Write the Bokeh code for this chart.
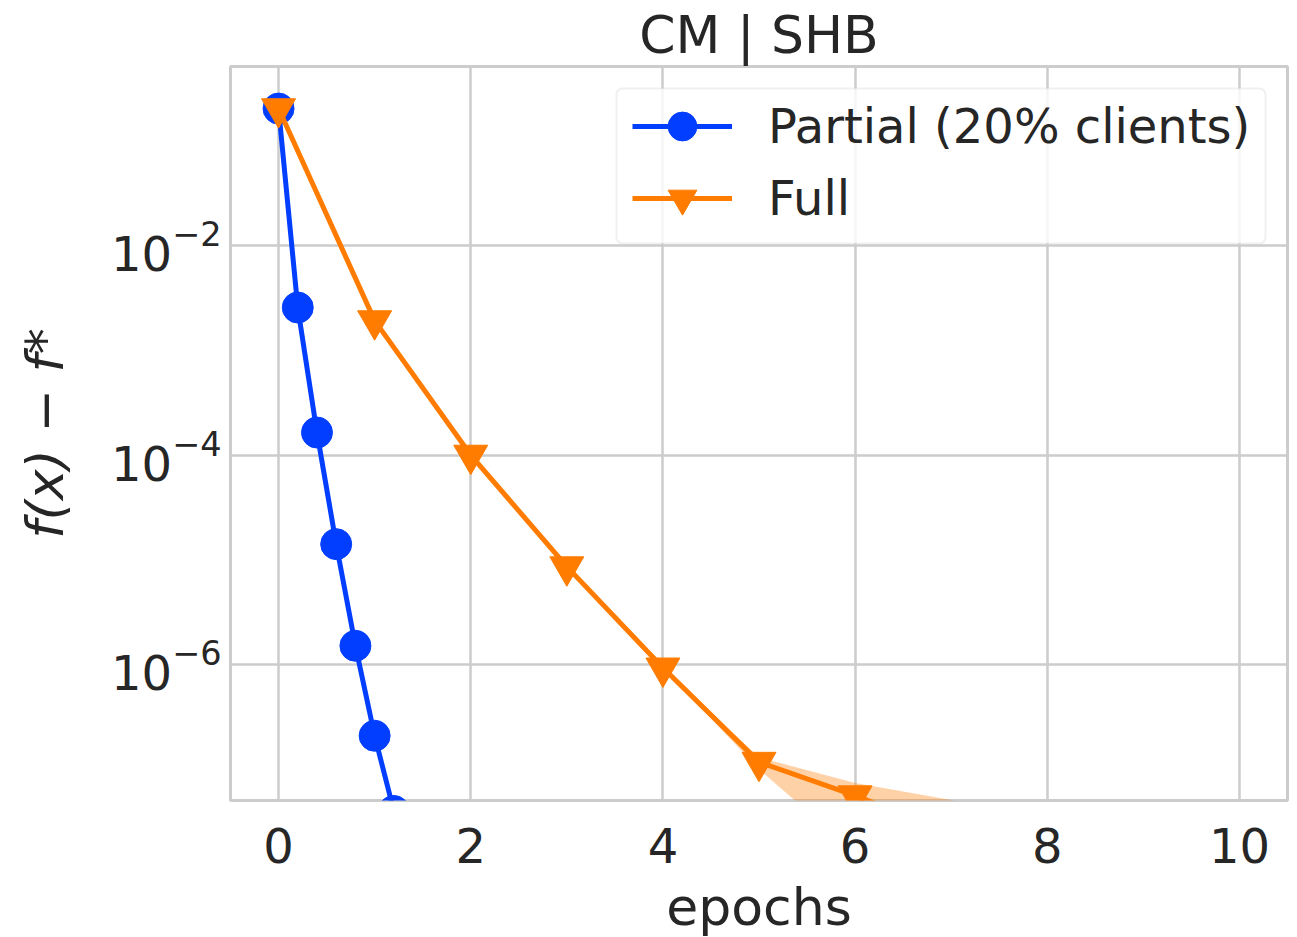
from bokeh.plotting import figure
from bokeh.models import Range1d, FixedTicker, LogTickFormatter, ColumnDataSource, BoxAnnotation
from bokeh.embed import file_html
from bokeh.resources import INLINE

# ---- data ----
epochs_partial = [0.0, 0.2, 0.4, 0.6, 0.8, 1.0, 1.2, 1.4]
loss_partial = [0.203, 2.56e-3, 1.64e-4, 1.41e-5, 1.51e-6, 2.09e-7, 4.0e-8, 8.0e-9]

epochs_full = [0, 1, 2, 3, 4, 5, 6, 7, 8, 9, 10]
loss_full = [0.203, 1.92e-3, 1.0e-4, 8.6e-6, 9.3e-7, 1.17e-7, 5.6e-8, 2.5e-8, 1.2e-8, 6e-9, 3e-9]
loss_full_low = [0.203, 1.92e-3, 1.0e-4, 8.6e-6, 9.3e-7, 1.0e-7, 1.6e-8, 5e-9, 2e-9, 1e-9, 5e-10]
loss_full_high = [0.203, 1.92e-3, 1.0e-4, 8.6e-6, 9.3e-7, 1.3e-7, 7.4e-8, 5.1e-8, 3e-8, 1.5e-8, 8e-9]

x_ticks = [0, 2, 4, 6, 8, 10]
y_ticks = [1e-2, 1e-4, 1e-6]

title_text = "CM | SHB"
x_label = "epochs"
y_label = "f(x) − f*"
label_partial = "Partial (20% clients)"
label_full = "Full"

BLUE = "#023eff"
ORANGE = "#ff7c00"
TXT = "#262626"
GRID = "#cccccc"
FONT = "DejaVu Sans"

p = figure(
    frame_width=1057, frame_height=734,
    min_border_left=230, min_border_right=2, min_border_top=66, min_border_bottom=129,
    x_axis_type="linear", y_axis_type="log",
    x_range=Range1d(-0.5, 10.5), y_range=Range1d(10 ** -7.298, 10 ** -0.291),
    output_backend="svg", toolbar_location=None,
    title=title_text,
)

p.title.align = "center"
p.title.text_font = FONT
p.title.text_font_size = "52px"
p.title.text_font_style = "normal"
p.title.text_color = TXT
p.title.standoff = 4

p.outline_line_color = GRID
p.outline_line_width = 3

for ax in (p.xaxis[0], p.yaxis[0]):
    ax.axis_line_color = None
    ax.major_tick_line_color = None
    ax.minor_tick_line_color = None
    ax.major_tick_out = 0
    ax.minor_tick_out = 0
    ax.major_label_text_font = FONT
    ax.major_label_text_font_size = "48px"
    ax.major_label_text_color = TXT
    ax.axis_label_text_font = FONT
    ax.axis_label_text_font_size = "52px"
    ax.axis_label_text_color = TXT
    ax.axis_label_text_font_style = "normal"

p.xaxis.ticker = FixedTicker(ticks=x_ticks)
p.xaxis.axis_label = x_label
p.xaxis.major_label_standoff = 27
p.xaxis.axis_label_standoff = 11

p.yaxis.ticker = FixedTicker(ticks=y_ticks)
p.yaxis.axis_label = y_label
p.yaxis.axis_label_text_font_style = "italic"
p.yaxis.major_label_standoff = 9
p.yaxis.axis_label_standoff = 33
p.yaxis.formatter = LogTickFormatter()

p.xgrid.grid_line_color = GRID
p.xgrid.grid_line_width = 2.5
p.ygrid.grid_line_color = GRID
p.ygrid.grid_line_width = 2.5
p.ygrid.minor_grid_line_color = None

# legend frame (drawn beneath the legend entries)
legend_box = BoxAnnotation(left=616, right=1265, top=88, bottom=243,
                           left_units="canvas", right_units="canvas",
                           top_units="canvas", bottom_units="canvas",
                           fill_color="white", fill_alpha=0.8,
                           line_color=GRID, line_width=2, border_radius=6)
p.add_layout(legend_box)

src_p = ColumnDataSource(dict(x=epochs_partial, y=loss_partial))
src_f = ColumnDataSource(dict(x=epochs_full, y=loss_full, lo=loss_full_low, hi=loss_full_high))

p.varea(x="x", y1="lo", y2="hi", source=src_f, fill_color=ORANGE, fill_alpha=0.35)

p.line("x", "y", source=src_p, line_color=BLUE, line_width=5, legend_label=label_partial)
p.scatter("x", "y", source=src_p, marker="circle", size=31, fill_color=BLUE,
          line_color=BLUE, legend_label=label_partial)

p.line("x", "y", source=src_f, line_color=ORANGE, line_width=5, legend_label=label_full)
p.scatter("x", "y", source=src_f, marker="inverted_triangle", size=34, fill_color=ORANGE,
          line_color=ORANGE, legend_label=label_full)

lg = p.legend[0]
lg.location = (402, 566)
lg.margin = 0
lg.padding = 0
lg.spacing = 0
lg.glyph_width = 100
lg.glyph_height = 72
lg.label_standoff = 36
lg.label_text_font = FONT
lg.label_text_font_size = "48px"
lg.label_text_color = TXT
lg.border_line_color = None
lg.background_fill_color = None

open("out.html", "w").write(file_html(p, INLINE))
